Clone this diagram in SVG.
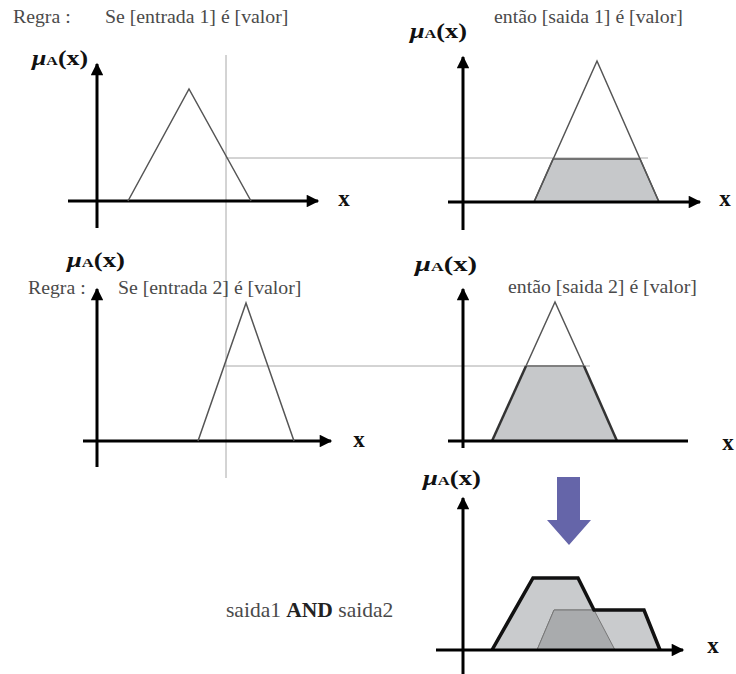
<svg xmlns="http://www.w3.org/2000/svg" width="736" height="674" viewBox="0 0 736 674">
<style>
.lbl{font-family:"Liberation Serif","Times New Roman",serif;font-size:19.8px;fill:#4a4a4a}
.mu{font-family:"Liberation Serif","Times New Roman",serif;font-weight:bold;font-size:21px;fill:#111}
.mu .a{font-size:13px}
.mu .g{font-style:italic}
.xl{font-family:"Liberation Serif","Times New Roman",serif;font-weight:bold;font-size:23px;fill:#111}
.ax{stroke:#000;stroke-width:3;fill:none}
.mf{fill:none;stroke:#555;stroke-width:1.5;stroke-linejoin:miter}
.tr{fill:#c6c8ca;stroke:#555;stroke-width:1.5}
.guide{stroke:#a8a8a8;stroke-width:1;fill:none}
.bold{font-weight:bold;fill:#222}
</style>
<defs>
<marker id="ah" viewBox="0 0 10 10" refX="9" refY="5" markerWidth="4.4" markerHeight="4.2" orient="auto" markerUnits="strokeWidth">
<path d="M0,0 L10,5 L0,10 z" fill="#000"/>
</marker>
</defs>
<rect width="736" height="674" fill="#fff"/>

<g id="connectors">
<line class="guide" x1="226" y1="55" x2="226" y2="478"/>
<line class="guide" x1="226" y1="158" x2="648" y2="158"/>
<line class="guide" x1="224" y1="366" x2="590" y2="366"/>
</g>

<g id="rule1-input">
<text class="lbl" x="13" y="23">Regra  :</text>
<text class="lbl" x="105" y="23">Se [entrada 1] é [valor]</text>
<text class="mu" x="32" y="65" textLength="56" lengthAdjust="spacingAndGlyphs"><tspan class="g">μ</tspan><tspan class="a">A</tspan>(x)</text>
<line class="ax" x1="97" y1="228" x2="97" y2="64" marker-end="url(#ah)"/>
<line class="ax" x1="68" y1="201" x2="318" y2="201" marker-end="url(#ah)"/>
<polyline class="mf" points="128,201 189,89 251,201"/>
<text class="xl" x="344" y="206" text-anchor="middle">x</text>
</g>

<g id="rule1-output">
<text class="lbl" x="494" y="23">então [saida 1] é [valor]</text>
<text class="mu" x="410" y="38" textLength="57" lengthAdjust="spacingAndGlyphs"><tspan class="g">μ</tspan><tspan class="a">A</tspan>(x)</text>
<polygon class="tr" points="534,202 553,159 640,159 659,202"/>
<polyline class="mf" points="534,202 597,61 659,202"/>
<line class="ax" x1="463" y1="230" x2="463" y2="57" marker-end="url(#ah)"/>
<line class="ax" x1="448" y1="202" x2="700" y2="202" marker-end="url(#ah)"/>
<text class="xl" x="725" y="206" text-anchor="middle">x</text>
</g>

<g id="rule2-input">
<text class="mu" x="67" y="267" textLength="58" lengthAdjust="spacingAndGlyphs"><tspan class="g">μ</tspan><tspan class="a">A</tspan>(x)</text>
<text class="lbl" x="28" y="294">Regra  :</text>
<text class="lbl" x="118" y="294">Se [entrada 2] é [valor]</text>
<line class="ax" x1="97" y1="467" x2="97" y2="289" marker-end="url(#ah)"/>
<line class="ax" x1="83" y1="441" x2="331" y2="441" marker-end="url(#ah)"/>
<polyline class="mf" points="198,441 246,303 294,441"/>
<text class="xl" x="359" y="447" text-anchor="middle">x</text>
</g>

<g id="rule2-output">
<text class="mu" x="415" y="271" textLength="62" lengthAdjust="spacingAndGlyphs"><tspan class="g">μ</tspan><tspan class="a">A</tspan>(x)</text>
<text class="lbl" x="508" y="293">então [saida 2] é [valor]</text>
<polygon points="492,441 526,366 584,366 617,441" fill="#c6c8ca"/>
<polyline class="mf" points="526,366 555,302 584,366"/>
<line x1="526" y1="366" x2="584" y2="366" stroke="#666" stroke-width="1.5"/>
<polyline points="492,441 526,366" stroke="#333" stroke-width="2.5" fill="none"/>
<polyline points="584,366 617,441" stroke="#333" stroke-width="2.5" fill="none"/>
<line class="ax" x1="463" y1="448" x2="463" y2="289" marker-end="url(#ah)"/>
<line class="ax" x1="448" y1="441" x2="688" y2="441"/>
<text class="xl" x="728" y="450" text-anchor="middle">x</text>
</g>

<g id="aggregation-arrow">
<path d="M557,477 H580 V520 H591 L569,545 L547,520 H557 Z" fill="#6565a9"/>
</g>

<g id="aggregated-output">
<text class="mu" x="423" y="485" textLength="58" lengthAdjust="spacingAndGlyphs"><tspan class="g">μ</tspan><tspan class="a">A</tspan>(x)</text>
<text class="lbl" x="226" y="617" style="font-size:21.5px">saida1 <tspan class="bold">AND</tspan> saida2</text>
<polygon points="492,650 533,578 578,578 615,650" fill="#c9cbcd" stroke="#777" stroke-width="1"/>
<polygon points="537,650 554,610 644,610 660,650" fill="#c9cbcd" stroke="#777" stroke-width="1"/>
<polygon points="537,650 554,610 594,610 615,650" fill="#a9abad" stroke="#777" stroke-width="1"/>
<polyline points="492,650 533,578 578,578 594,610 644,610 660,650" fill="none" stroke="#111" stroke-width="3.5" stroke-linejoin="miter"/>
<line class="ax" x1="463" y1="674" x2="463" y2="498" marker-end="url(#ah)"/>
<line class="ax" x1="436" y1="650" x2="683" y2="650" marker-end="url(#ah)"/>
<text class="xl" x="713" y="653" text-anchor="middle">x</text>
</g>
</svg>
